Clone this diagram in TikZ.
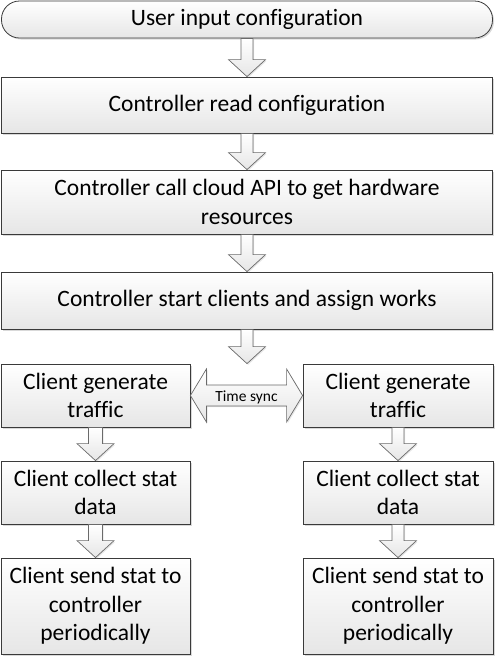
\documentclass[tikz,border=0pt]{standalone}
\usepackage{fontspec}
\setmainfont{Carlito}[Ligatures=NoCommon]
\usetikzlibrary{calc,shadows}
\definecolor{edge}{HTML}{3A3A3A}
\definecolor{arredge}{HTML}{6A6A6A}
\definecolor{shadebot}{HTML}{E6E6E6}
\tikzset{
  box/.style={draw=edge, line width=0.8pt, top color=white, bottom color=shadebot,
    align=center, inner sep=0pt,
    font=\fontsize{23.5}{28.7}\selectfont,
    drop shadow={opacity=0.3, shadow xshift=1.5pt, shadow yshift=-1.5pt, fill=gray}},
  barrow/.style={draw=arredge, line width=0.7pt, top color=white, bottom color=shadebot,
    drop shadow={opacity=0.2, shadow xshift=1.2pt, shadow yshift=-1.2pt, fill=gray}},
  smalltext/.style={font=\fontsize{15.5}{18}\selectfont, inner sep=0pt}
}
\newcommand\downarr[3]{% from, to, shaft half width
  \path[barrow] let \p1=(#1.south), \p2=(#2.north) in
    (\x1-#3,\y1) -- (\x1+#3,\y1) -- (\x1+#3,\y2+17pt) -- (\x1+18.5pt,\y2+17pt)
    -- (\x1,\y2) -- (\x1-18.5pt,\y2+17pt) -- (\x1-#3,\y2+17pt) -- cycle;}
\begin{document}
\begin{tikzpicture}[x=1pt,y=-1pt]
\useasboundingbox (0,0) rectangle (495,657);
\node[box, minimum width=491pt, minimum height=37pt, rounded corners=18pt] (n1) at (247,19.5) {User input configuration};
\node[box, minimum width=491pt, minimum height=56pt] (n2) at (247,105) {Controller read configuration};
\node[box, minimum width=491pt, minimum height=64pt] (n3) at (247,202) {Controller call cloud API to get hardware\\resources};
\node[box, minimum width=491pt, minimum height=57pt] (n4) at (247,300.5) {Controller start clients and assign works};
\node[box, minimum width=189pt, minimum height=63pt] (l1) at (95.5,395.5) {Client generate\\traffic};
\node[box, minimum width=190pt, minimum height=63pt] (r1) at (398,395.5) {Client generate\\traffic};
\node[box, minimum width=189pt, minimum height=63pt] (l2) at (95.5,492.5) {Client collect stat\\data};
\node[box, minimum width=190pt, minimum height=63pt] (r2) at (398,492.5) {Client collect stat\\data};
\node[box, minimum width=189pt, minimum height=96pt] (l3) at (95.5,606) {Client send stat to\\controller\\periodically};
\node[box, minimum width=190pt, minimum height=96pt] (r3) at (398,606) {Client send stat to\\controller\\periodically};
\downarr{n1}{n2}{6pt}
\downarr{n2}{n3}{6pt}
\downarr{n3}{n4}{6pt}
\path[barrow] let \p1=(n4.south), \p2=(l1.north) in
    (\x1-6pt,\y1) -- (\x1+6pt,\y1) -- (\x1+6pt,\y2+17pt) -- (\x1+18.5pt,\y2+17pt)
    -- (\x1,\y2) -- (\x1-18.5pt,\y2+17pt) -- (\x1-6pt,\y2+17pt) -- cycle;
\downarr{l1}{l2}{7pt}
\downarr{r1}{r2}{6pt}
\downarr{l2}{l3}{7pt}
\downarr{r2}{r3}{6pt}
\path[barrow] let \p1=(l1.east), \p2=(r1.west) in
  (\x1,\y1) -- (\x1+16pt,\y1+26.5pt) -- (\x1+16pt,\y1+10.5pt) -- (\x2-16pt,\y1+10.5pt)
  -- (\x2-16pt,\y1+26.5pt) -- (\x2,\y1) -- (\x2-16pt,\y1-26.5pt) -- (\x2-16pt,\y1-10.5pt)
  -- (\x1+16pt,\y1-10.5pt) -- (\x1+16pt,\y1-26.5pt) -- cycle;
\node[smalltext] (ts) at ($(l1.east)!0.5!(r1.west)+(0,2)$) {Time sync};
\end{tikzpicture}
\end{document}
